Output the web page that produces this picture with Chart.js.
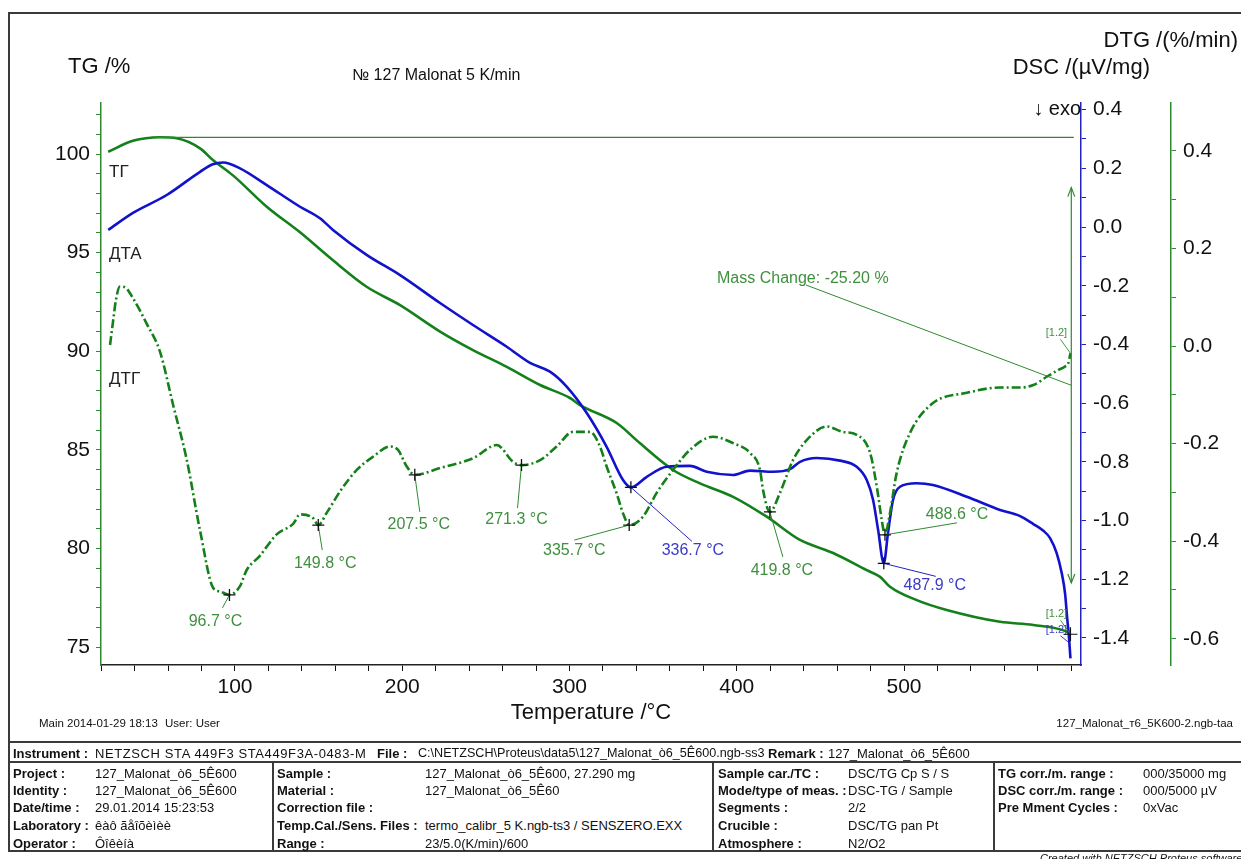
<!DOCTYPE html>
<html>
<head>
<meta charset="utf-8">
<script src="https://cdn.jsdelivr.net/npm/chart.js@4/dist/chart.umd.min.js"></script>
<style>
  html, body { margin: 0; padding: 0; background: #fff; width: 1241px; height: 859px; overflow: hidden;
               font-family: "Liberation Sans", Arial, sans-serif; }
  #plot { position: absolute; left: 0; top: 0; }
  .ln { position: absolute; background: #3a3a3a; }
  .tx { position: absolute; white-space: pre; line-height: 1; transform: translateY(-50%); font-size: 13px; color: #111; }
  .b { font-weight: bold; }
</style>
</head>
<body>
<canvas id="plot" width="1241" height="745"></canvas>
<div id="sheet"></div>
<script>
// ---------- axes ----------
const tempTicks  = [20,40,60,80,100,120,140,160,180,200,220,240,260,280,300,320,340,360,380,400,420,440,460,480,500,520,540,560,580,600];
const tempLabels = [100,200,300,400,500];
const tgTicks    = [75,76,77,78,79,80,81,82,83,84,85,86,87,88,89,90,91,92,93,94,95,96,97,98,99,100,101,102];
const tgLabels   = [75,80,85,90,95,100];
const dscTicks   = [-1.4,-1.3,-1.2,-1.1,-1.0,-0.9,-0.8,-0.7,-0.6,-0.5,-0.4,-0.3,-0.2,-0.1,0.0,0.1,0.2,0.3,0.4];
const dscLabels  = [-1.4,-1.2,-1.0,-0.8,-0.6,-0.4,-0.2,0.0,0.2,0.4];
const dtgTicks   = [-0.6,-0.5,-0.4,-0.3,-0.2,-0.1,0.0,0.1,0.2,0.3,0.4];
const dtgLabels  = [-0.6,-0.4,-0.2,0.0,0.2,0.4];

// ---------- TG: mass, % ----------
const tgTemp = [24.2, 39.0, 55.2, 65.1, 79.1, 86.8, 98.8, 119.0, 138.9, 158.6, 178.7, 198.7, 222.6, 242.3, 262.5,
                282.4, 300.3, 306.3, 328.2, 342.2, 361.9, 378.0, 397.8, 417.9, 437.8, 457.6, 477.7, 485.7, 491.6,
                507.6, 525.5, 557.4, 577.3, 597.3, 599.5];
const tgMass = [100.12, 100.67, 100.85, 100.80, 100.29, 99.70, 98.92, 97.33, 96.03, 94.61, 93.27, 92.34, 91.00, 90.06, 89.21,
                88.29, 87.63, 87.27, 86.36, 85.33, 83.98, 83.30, 82.62, 81.61, 80.43, 79.77, 78.90, 78.56, 78.06,
                77.38, 76.88, 76.28, 76.12, 75.78, 75.65];

// ---------- DSC: µV/mg ----------
const dscTemp = [24.2, 39.0, 59.2, 79.1, 86.8, 93.0, 103.0, 119.0, 138.9, 150.8, 158.6, 178.7, 198.7, 222.6, 242.3,
                 262.5, 276.4, 288.3, 298.3, 310.3, 322.2, 332.0, 336.7, 346.2, 358.1, 372.0, 382.0, 397.8, 407.9,
                 421.7, 431.8, 437.8, 447.8, 461.7, 471.7, 477.7, 481.5, 484.5, 487.9, 490.4, 493.4, 497.6, 507.6,
                 517.3, 537.5, 557.4, 569.4, 577.3, 583.3, 587.3, 591.3, 594.3, 596.3, 597.5, 598.5, 599.5];
const dscSignal = [-0.010, 0.048, 0.109, 0.188, 0.214, 0.220, 0.200, 0.143, 0.069, 0.030, -0.010, -0.095, -0.164, -0.259, -0.334,
                   -0.408, -0.463, -0.493, -0.544, -0.634, -0.749, -0.862, -0.887, -0.851, -0.817, -0.814, -0.834, -0.845, -0.830,
                   -0.834, -0.825, -0.800, -0.787, -0.796, -0.817, -0.862, -0.930, -1.032, -1.146, -1.043, -0.930, -0.885, -0.873,
                   -0.879, -0.919, -0.964, -0.985, -1.012, -1.035, -1.060, -1.112, -1.180, -1.250, -1.330, -1.390, -1.470];

// ---------- DTG: %/min ----------
const dtgTemp = [25.3, 27.2, 28.8, 31.2, 34.8, 39.2, 47.2, 55.2, 63.1, 71.1, 79.1, 87.0, 91.0, 96.7, 103.0, 107.0,
                 114.9, 124.9, 134.9, 138.9, 146.8, 149.8, 154.8, 163.4, 172.8, 182.5, 192.7, 197.5, 202.7, 207.5,
                 222.6, 242.3, 256.5, 266.2, 271.3, 282.4, 292.3, 302.1, 312.3, 318.2, 322.2, 328.2, 332.0, 335.7,
                 343.9, 352.1, 361.9, 372.0, 385.8, 397.8, 407.9, 413.9, 415.7, 419.8, 425.8, 433.6, 441.8, 453.8,
                 463.5, 471.7, 479.7, 483.7, 486.7, 488.6, 491.6, 495.6, 503.6, 517.3, 537.5, 557.4, 569.4, 577.3,
                 585.3, 592.3, 596.3, 598.2, 599.5];
const dtgRate = [0.002, 0.053, 0.094, 0.122, 0.119, 0.097, 0.046, -0.012, -0.122, -0.232, -0.378, -0.496, -0.503, -0.510, -0.492, -0.459,
                 -0.430, -0.386, -0.364, -0.345, -0.353, -0.367, -0.342, -0.295, -0.254, -0.227, -0.206, -0.213, -0.247, -0.264,
                 -0.250, -0.230, -0.203, -0.237, -0.244, -0.234, -0.206, -0.176, -0.176, -0.206, -0.247, -0.302, -0.343, -0.367,
                 -0.350, -0.301, -0.254, -0.213, -0.186, -0.199, -0.219, -0.254, -0.295, -0.340, -0.301, -0.234, -0.193, -0.165,
                 -0.176, -0.182, -0.219, -0.288, -0.357, -0.387, -0.342, -0.260, -0.178, -0.117, -0.096, -0.085, -0.085, -0.080,
                 -0.063, -0.049, -0.042, -0.035, -0.015];

// ---------- evaluations ----------
const dtgPeakT = [96.7, 149.8, 207.5, 271.3, 335.7, 419.8, 488.6];
const dscPeakT = [336.7, 487.9];
const massStartLevel = 100.85;      // % , reference level of the mass-change step
const massChange = -25.20;          // %
const massArrowTop = 98.3, massArrowBottom = 78.25, massArrowT = 600.0;

// label placement around each marked point, px: [labelDx, labelDy, leaderDx, leaderDy]
const dtgPeakPlace = [[-14,27,-7,13],[7,38,4,25],[4,50,5,37],[-5,55,-4,43],[-55,25,-55,15],[12,59,13,45],[72,-20,72,-12]];
const dscPeakPlace = [[62,63,61,54],[51,22,52,13]];

const FONT = '"Liberation Sans", Arial, sans-serif';
const GREEN = '#14801a', GREEN_AX = '#2f8a2f', GREEN_TXT = '#3f8f3f';
const BLUE = '#1212cc', BLUE_AX = '#2323bb', BLUE_TXT = '#3b3bc4';

Chart.defaults.font.family = FONT;

const pts = (xs, ys) => xs.map((t, i) => ({ x: t, y: ys[i] }));
const valueAt = (xs, ys, t) => ys[xs.indexOf(t)];

function cross(ctx, x, y, r) {
  ctx.beginPath();
  ctx.moveTo(x - r, y); ctx.lineTo(x + r, y);
  ctx.moveTo(x, y - r); ctx.lineTo(x, y + r);
  ctx.stroke();
}
function arrowHead(ctx, x, y, dir) {
  ctx.beginPath();
  ctx.moveTo(x - 3.5, y - dir * 9); ctx.lineTo(x, y); ctx.lineTo(x + 3.5, y - dir * 9);
  ctx.stroke();
}
function text(ctx, s, x, y, font, color, align) {
  ctx.font = font; ctx.fillStyle = color; ctx.textAlign = align || 'left'; ctx.textBaseline = 'middle';
  ctx.fillText(s, x, y);
}

const evaluations = {
  id: 'evaluations',
  afterDatasetsDraw(chart) {
    const { ctx, scales } = chart;
    const X = v => scales.x.getPixelForValue(v);
    const YT = v => scales.yTG.getPixelForValue(v);
    const YS = v => scales.yDSC.getPixelForValue(v);
    const YD = v => scales.yDTG.getPixelForValue(v);
    ctx.save();

    // mass change: reference level, double arrow and caption
    ctx.strokeStyle = GREEN_AX; ctx.lineWidth = 1.2;
    ctx.beginPath();
    ctx.moveTo(X(52), YT(massStartLevel)); ctx.lineTo(X(601.5), YT(massStartLevel));
    ctx.stroke();
    const ax = X(massArrowT), ay1 = YT(massArrowTop), ay2 = YT(massArrowBottom);
    ctx.beginPath(); ctx.moveTo(ax, ay1); ctx.lineTo(ax, ay2); ctx.stroke();
    arrowHead(ctx, ax, ay1, -1); arrowHead(ctx, ax, ay2, 1);
    ctx.lineWidth = 1;
    ctx.beginPath();
    ctx.moveTo(X(441.4), YT(93.36)); ctx.lineTo(ax, YT((massArrowTop + massArrowBottom) / 2));
    ctx.stroke();
    text(ctx, 'Mass Change: ' + massChange.toFixed(2) + ' %', X(388.2), YT(93.66), '16px ' + FONT, GREEN_TXT);

    // DTG peaks
    dtgPeakT.forEach((t, i) => {
      const px = X(t), py = YD(valueAt(dtgTemp, dtgRate, t)), p = dtgPeakPlace[i];
      ctx.strokeStyle = GREEN_AX; ctx.lineWidth = 1;
      ctx.beginPath(); ctx.moveTo(px, py); ctx.lineTo(px + p[2], py + p[3]); ctx.stroke();
      ctx.strokeStyle = '#111'; ctx.lineWidth = 1.3; cross(ctx, px, py, 6);
      text(ctx, t.toFixed(1) + ' °C', px + p[0], py + p[1], '16px ' + FONT, GREEN_TXT, 'center');
    });
    // DSC peaks
    dscPeakT.forEach((t, i) => {
      const px = X(t), py = YS(valueAt(dscTemp, dscSignal, t)), p = dscPeakPlace[i];
      ctx.strokeStyle = BLUE_AX; ctx.lineWidth = 1;
      ctx.beginPath(); ctx.moveTo(px, py); ctx.lineTo(px + p[2], py + p[3]); ctx.stroke();
      ctx.strokeStyle = '#111'; ctx.lineWidth = 1.3; cross(ctx, px, py, 6);
      text(ctx, t.toFixed(1) + ' °C', px + p[0], py + p[1], '16px ' + FONT, BLUE_TXT, 'center');
    });

    // segment tags at the curve ends
    const endT = 599.5;
    const tags = [
      [YD(dtgRate[dtgRate.length - 1]), GREEN_TXT, GREEN_AX, -20],
      [YT(tgMass[tgMass.length - 1]), GREEN_TXT, GREEN_AX, -20],
      [YS(-1.42), BLUE_TXT, BLUE_AX, -14]
    ];
    tags.forEach(([y, tc, lc, dy]) => {
      ctx.strokeStyle = lc; ctx.lineWidth = 0.9;
      ctx.beginPath(); ctx.moveTo(X(endT) - 10, y + dy + 6); ctx.lineTo(X(endT), y); ctx.stroke();
      text(ctx, '[1.2]', X(endT) - 14, y + dy, '11px ' + FONT, tc, 'center');
    });
    ctx.strokeStyle = '#111'; ctx.lineWidth = 1.2;
    cross(ctx, X(endT), YT(tgMass[tgMass.length - 1]), 7);

    // curve names
    const la = chart.chartArea.left + 8;
    text(ctx, 'ТГ', la, YT(99.1), '17px ' + FONT, '#222');
    text(ctx, 'ДТА', la, YT(94.9), '17px ' + FONT, '#222');
    text(ctx, 'ДТГ', la, YT(88.6), '17px ' + FONT, '#222');
    ctx.restore();
  },
  afterDraw(chart) {
    const { ctx } = chart;
    ctx.save();
    text(ctx, 'TG /%', 68, 67, '22px ' + FONT, '#111');
    text(ctx, '№ 127 Malonat 5 K/min', 352, 76, '16px ' + FONT, '#111');
    text(ctx, 'DTG /(%/min)', 1238, 41, '22px ' + FONT, '#111', 'right');
    text(ctx, 'DSC /(µV/mg)', 1150, 68, '22px ' + FONT, '#111', 'right');
    text(ctx, '↓ exo', 1081, 109, '20px ' + FONT, '#111', 'right');
    ctx.restore();
  }
};

const tickSet = arr => (scale => { scale.ticks = arr.map(v => ({ value: v })); });
const fmt = (labels, digits) => (v => labels.includes(v) ? (digits ? v.toFixed(digits) : String(v)) : '');

new Chart(document.getElementById('plot'), {
  type: 'line',
  data: {
    datasets: [
      { label: 'DTG', data: pts(dtgTemp, dtgRate), yAxisID: 'yDTG', borderColor: GREEN, borderWidth: 2.6,
        borderDash: [9, 3, 2, 3], pointRadius: 0, cubicInterpolationMode: 'monotone', fill: false },
      { label: 'DSC', data: pts(dscTemp, dscSignal), yAxisID: 'yDSC', borderColor: BLUE, borderWidth: 2.6,
        pointRadius: 0, cubicInterpolationMode: 'monotone', fill: false },
      { label: 'TG', data: pts(tgTemp, tgMass), yAxisID: 'yTG', borderColor: GREEN, borderWidth: 2.6,
        pointRadius: 0, cubicInterpolationMode: 'monotone', fill: false }
    ]
  },
  options: {
    responsive: false,
    animation: false,
    events: [],
    layout: { padding: { left: 0, right: 0, top: 103, bottom: 0 } },
    plugins: { legend: { display: false }, tooltip: { enabled: false } },
    scales: {
      x: {
        type: 'linear', min: 19.9, max: 605.8,
        afterBuildTicks: tickSet(tempTicks),
        afterFit: s => { s.height = 80; },
        ticks: { callback: fmt(tempLabels, 0), autoSkip: false, maxRotation: 0, color: '#111', font: { size: 21 }, padding: 4 },
        grid: { drawOnChartArea: false, drawTicks: true, tickLength: 6, tickColor: '#111', color: '#111' },
        border: { color: '#222', width: 1.5 },
        title: { display: true, text: 'Temperature /°C', color: '#111', font: { size: 22 }, padding: { top: 0, bottom: 19 } }
      },
      yTG: {
        type: 'linear', position: 'left', min: 74.09, max: 102.59,
        afterBuildTicks: tickSet(tgTicks),
        afterFit: s => { s.width = 101; },
        ticks: { callback: fmt(tgLabels, 0), autoSkip: false, color: '#111', font: { size: 21 }, padding: 6 },
        grid: { drawOnChartArea: false, drawTicks: true, tickLength: 5, tickColor: GREEN_AX, color: GREEN_AX },
        border: { color: GREEN_AX, width: 1.5 }
      },
      yDSC: {
        type: 'linear', position: 'right', weight: 0, min: -1.4923, max: 0.4225,
        afterBuildTicks: tickSet(dscTicks),
        afterFit: s => { s.width = 90; },
        ticks: { callback: fmt(dscLabels, 1), autoSkip: false, color: '#111', font: { size: 21 }, padding: 7 },
        grid: { drawOnChartArea: false, drawTicks: true, tickLength: 5, tickColor: BLUE_AX, color: BLUE_AX },
        border: { color: BLUE_AX, width: 1.5 }
      },
      yDTG: {
        type: 'linear', position: 'right', weight: 1, min: -0.6537, max: 0.498,
        afterBuildTicks: tickSet(dtgTicks),
        afterFit: s => { s.width = 70; },
        ticks: { callback: fmt(dtgLabels, 1), autoSkip: false, color: '#111', font: { size: 21 }, padding: 7 },
        grid: { drawOnChartArea: false, drawTicks: true, tickLength: 5, tickColor: GREEN_AX, color: GREEN_AX },
        border: { color: GREEN_AX, width: 1.5 }
      }
    }
  },
  plugins: [evaluations]
});

// ---------- sheet frame and measurement info ----------
const sheetLines = [
  [8, 12, 1233, 2], [8, 12, 2, 840], [8, 741, 1233, 2], [8, 761, 1233, 1.5], [8, 850, 1233, 2],
  [272, 761, 1.5, 90], [712, 761, 1.5, 90], [993, 761, 1.5, 90]
];
const sheetText = [
  // [text, left, centerY, bold, size, letterSpacing]
  ['Main', 39, 724, false, 11.5], ['2014-01-29 18:13', 67, 724, false, 11.5], ['User: User', 165, 724, false, 11.5],
  ['Instrument :', 13, 753, true], ['NETZSCH STA 449F3 STA449F3A-0483-M', 95, 753, false, 13, 0.6],
  ['File :', 377, 753, true], ['C:\\NETZSCH\\Proteus\\data5\\127_Malonat_ò6_5Ê600.ngb-ss3', 418, 753, false, 12.6],
  ['Remark :', 768, 753, true], ['127_Malonat_ò6_5Ê600', 828, 753, false],
  ['Project :', 13, 773, true], ['127_Malonat_ò6_5Ê600', 95, 773, false],
  ['Identity :', 13, 790, true], ['127_Malonat_ò6_5Ê600', 95, 790, false],
  ['Date/time :', 13, 807, true], ['29.01.2014 15:23:53', 95, 807, false],
  ['Laboratory :', 13, 825, true], ['êàô ãåîõèìèè', 95, 825, false],
  ['Operator :', 13, 843, true], ['Ôîêèíà', 95, 843, false],
  ['Sample :', 277, 773, true], ['127_Malonat_ò6_5Ê600, 27.290 mg', 425, 773, false],
  ['Material :', 277, 790, true], ['127_Malonat_ò6_5Ê60', 425, 790, false],
  ['Correction file :', 277, 807, true],
  ['Temp.Cal./Sens. Files :', 277, 825, true], ['termo_calibr_5 K.ngb-ts3 / SENSZERO.EXX', 425, 825, false],
  ['Range :', 277, 843, true], ['23/5.0(K/min)/600', 425, 843, false],
  ['Sample car./TC :', 718, 773, true], ['DSC/TG Cp S / S', 848, 773, false],
  ['Mode/type of meas. :', 718, 790, true], ['DSC-TG / Sample', 848, 790, false],
  ['Segments :', 718, 807, true], ['2/2', 848, 807, false],
  ['Crucible :', 718, 825, true], ['DSC/TG pan Pt', 848, 825, false],
  ['Atmosphere :', 718, 843, true], ['N2/O2', 848, 843, false],
  ['TG corr./m. range :', 998, 773, true], ['000/35000 mg', 1143, 773, false],
  ['DSC corr./m. range :', 998, 790, true], ['000/5000 µV', 1143, 790, false],
  ['Pre Mment Cycles :', 998, 807, true], ['0xVac', 1143, 807, false]
];
const sheet = document.getElementById('sheet');
sheetLines.forEach(([l, t, w, h]) => {
  const d = document.createElement('div');
  d.className = 'ln';
  d.style.cssText = `left:${l}px;top:${t}px;width:${w}px;height:${h}px`;
  sheet.appendChild(d);
});
sheetText.forEach(([s, l, y, bold, size, spacing]) => {
  const d = document.createElement('div');
  d.className = 'tx' + (bold ? ' b' : '');
  d.textContent = s;
  d.style.left = l + 'px'; d.style.top = y + 'px';
  if (size) d.style.fontSize = size + 'px';
  if (spacing) d.style.letterSpacing = spacing + 'px';
  sheet.appendChild(d);
});
const tail = document.createElement('div');
tail.className = 'tx';
tail.textContent = '127_Malonat_т6_5K600-2.ngb-taa';
tail.style.cssText = 'right:8px;top:724px;font-size:11.5px';
sheet.appendChild(tail);
const made = document.createElement('div');
made.className = 'tx';
made.textContent = 'Created with NETZSCH Proteus software';
made.style.cssText = 'left:1040px;top:858px;font-size:11px;font-style:italic';
sheet.appendChild(made);
</script>
</body>
</html>
